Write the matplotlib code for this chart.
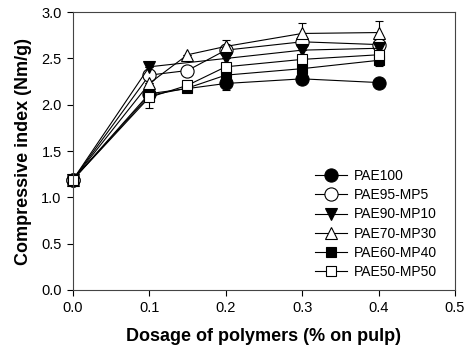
import matplotlib

matplotlib.use("Agg")

import matplotlib.pyplot as plt
from matplotlib.ticker import FormatStrFormatter

plt.rcParams["font.family"] = ["Liberation Sans", "DejaVu Sans"]

# data
series_names = ["PAE100", "PAE95-MP5", "PAE90-MP10", "PAE70-MP30", "PAE60-MP40", "PAE50-MP50"]
markers = ["o", "o", "v", "^", "s", "s"]
filled = [True, False, True, False, True, False]

dosage_a = [0.0, 0.1, 0.2, 0.3, 0.4]
dosage_b = [0.0, 0.1, 0.15, 0.2, 0.3, 0.4]

pae100 = [1.19, 2.12, 2.23, 2.28, 2.24]
pae100_err = [0.0, 0.0, 0.07, 0.0, 0.0]
pae95 = [1.19, 2.32, 2.37, 2.59, 2.68, 2.65]
pae95_err = [0.0, 0.0, 0.0, 0.0, 0.05, 0.05]
pae90 = [1.19, 2.41, 2.50, 2.59, 2.61]
pae90_err = [0.0, 0.0, 0.0, 0.0, 0.0]
pae70 = [1.19, 2.23, 2.54, 2.63, 2.77, 2.78]
pae70_err = [0.0, 0.0, 0.0, 0.07, 0.11, 0.12]
pae60 = [1.19, 2.10, 2.18, 2.32, 2.39, 2.48]
pae60_err = [0.0, 0.0, 0.0, 0.0, 0.0, 0.0]
pae50 = [1.19, 2.08, 2.21, 2.41, 2.49, 2.54]
pae50_err = [0.0, 0.11, 0.0, 0.0, 0.0, 0.12]

xs = [dosage_a, dosage_b, dosage_a, dosage_b, dosage_b, dosage_b]
ys = [pae100, pae95, pae90, pae70, pae60, pae50]
errs = [pae100_err, pae95_err, pae90_err, pae70_err, pae60_err, pae50_err]
sizes = [9.5, 9.5, 9, 9, 7.5, 7.5]

fig = plt.figure(figsize=(4.7, 3.58), dpi=100)
ax = fig.add_axes([0.155, 0.19, 0.813, 0.776])

for name, m, f, x, y, e, ms in zip(series_names, markers, filled, xs, ys, errs, sizes):
    line, caps, bars = ax.errorbar(
        x, y, yerr=e, color="black", ecolor="black", elinewidth=0.8, capsize=3,
        capthick=0.8, linewidth=0.8, marker=m, markersize=ms,
        markerfacecolor="black" if f else "white", markeredgecolor="black",
        markeredgewidth=0.8, label=name,
    )
    line.set_clip_on(False)

ax.set_xlim(0, 0.5)
ax.set_ylim(0, 3.0)
ax.set_xticks([0.0, 0.1, 0.2, 0.3, 0.4, 0.5])
ax.set_yticks([0.0, 0.5, 1.0, 1.5, 2.0, 2.5, 3.0])
ax.xaxis.set_major_formatter(FormatStrFormatter("%.1f"))
ax.yaxis.set_major_formatter(FormatStrFormatter("%.1f"))
ax.tick_params(direction="out", length=4, width=0.8, labelsize=10.5, pad=4)
for spine in ax.spines.values():
    spine.set_linewidth(0.8)
    spine.set_color("#444444")

ax.set_xlabel("Dosage of polymers (% on pulp)", fontsize=13, fontweight="bold", labelpad=9)
ax.set_ylabel("Compressive index (Nm/g)", fontsize=13, fontweight="bold", labelpad=7)

handles, labels = ax.get_legend_handles_labels()
handles = [h[0] for h in handles]
ax.legend(
    handles, labels, loc="upper left", bbox_to_anchor=(308 / 470, 1 - 162 / 358),
    bbox_transform=fig.transFigure, frameon=False, fontsize=10, handlelength=2.3,
    handletextpad=0.5, labelspacing=0.38, borderpad=0,
)

fig.savefig("out.png", dpi=100)
